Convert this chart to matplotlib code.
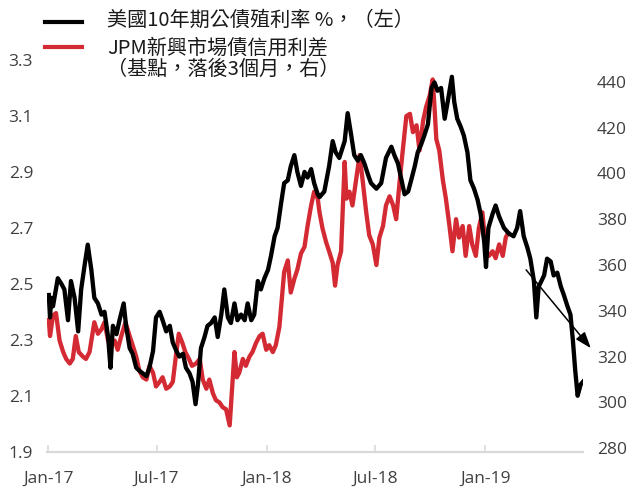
import matplotlib
matplotlib.use("Agg")
import matplotlib.pyplot as plt
import matplotlib.dates as mdates
from matplotlib.lines import Line2D
import pandas as pd

# US 10Y Treasury yield (%), left axis
ust_dates = [
    "2017-01-02","2017-01-04","2017-01-06","2017-01-09","2017-01-17","2017-01-23","2017-01-28",
    "2017-02-03","2017-02-08","2017-02-14","2017-02-20","2017-02-25","2017-03-03","2017-03-08",
    "2017-03-14","2017-03-19","2017-03-25","2017-03-31","2017-04-05","2017-04-11","2017-04-15",
    "2017-04-19","2017-04-25","2017-04-30","2017-05-07","2017-05-11","2017-05-17","2017-05-22",
    "2017-05-28","2017-06-02","2017-06-08","2017-06-14","2017-06-19","2017-06-25","2017-06-30",
    "2017-07-06","2017-07-11","2017-07-17","2017-07-23","2017-07-28","2017-08-03","2017-08-08",
    "2017-08-14","2017-08-19","2017-08-25","2017-08-30","2017-09-04","2017-09-08","2017-09-13",
    "2017-09-19","2017-09-24","2017-09-30","2017-10-06","2017-10-11","2017-10-17","2017-10-22",
    "2017-10-28","2017-11-02","2017-11-08","2017-11-13","2017-11-19","2017-11-25","2017-11-30",
    "2017-12-06","2017-12-11","2017-12-17","2017-12-22","2017-12-28","2018-01-03","2018-01-08",
    "2018-01-14","2018-01-19","2018-01-25","2018-01-30","2018-02-05","2018-02-10","2018-02-16",
    "2018-02-21","2018-02-27","2018-03-05","2018-03-10","2018-03-16","2018-03-21","2018-03-27",
    "2018-03-30","2018-04-07","2018-04-15","2018-04-21","2018-04-26","2018-05-02","2018-05-11",
    "2018-05-16","2018-05-22","2018-05-27","2018-06-02","2018-06-07","2018-06-13","2018-06-19",
    "2018-06-24","2018-07-03","2018-07-11","2018-07-19","2018-07-28","2018-08-02","2018-08-08",
    "2018-08-14","2018-08-19","2018-08-25","2018-08-30","2018-09-05","2018-09-10","2018-09-16",
    "2018-09-21","2018-09-27","2018-10-03","2018-10-08","2018-10-13","2018-10-19","2018-10-25",
    "2018-10-30","2018-11-06","2018-11-10","2018-11-15","2018-11-21","2018-11-26","2018-12-02",
    "2018-12-07","2018-12-13","2018-12-19","2018-12-24","2018-12-30","2019-01-02","2019-01-06",
    "2019-01-13","2019-01-18","2019-01-24","2019-02-01","2019-02-09","2019-02-17","2019-02-23",
    "2019-02-28","2019-03-06","2019-03-12","2019-03-17","2019-03-23","2019-03-27","2019-03-31",
    "2019-04-09","2019-04-14","2019-04-20","2019-04-25","2019-05-01","2019-05-07","2019-05-12",
    "2019-05-18","2019-05-23","2019-05-27","2019-05-31","2019-06-04","2019-06-09","2019-06-13",
]
ust_values = [
    2.46, 2.38, 2.45, 2.42, 2.52, 2.50, 2.48,
    2.37, 2.51, 2.45, 2.33, 2.48, 2.57, 2.64,
    2.55, 2.45, 2.43, 2.39, 2.40, 2.31, 2.20,
    2.35, 2.32, 2.37, 2.43, 2.35, 2.27, 2.25,
    2.20, 2.19, 2.18, 2.17, 2.20, 2.26, 2.38,
    2.40, 2.37, 2.33, 2.35, 2.29, 2.26, 2.24,
    2.25, 2.20, 2.18, 2.15, 2.07, 2.14, 2.27,
    2.31, 2.35, 2.36, 2.38, 2.31, 2.39, 2.48,
    2.38, 2.36, 2.43, 2.37, 2.39, 2.37, 2.43,
    2.37, 2.39, 2.51, 2.48, 2.52, 2.55, 2.60,
    2.67, 2.70, 2.79, 2.86, 2.87, 2.92, 2.96,
    2.90, 2.85, 2.90, 2.88, 2.91, 2.86, 2.82,
    2.81, 2.83, 2.92, 3.01, 2.97, 2.95, 3.01,
    3.11, 3.03, 2.96, 2.94, 2.96, 2.93, 2.89,
    2.86, 2.84, 2.86, 2.95, 2.99, 2.96, 2.93,
    2.87, 2.82, 2.83, 2.87, 2.92, 2.97, 3.00,
    3.03, 3.07, 3.20, 3.22, 3.19, 3.20, 3.09,
    3.15, 3.24, 3.15, 3.09, 3.06, 3.03, 2.97,
    2.87, 2.84, 2.80, 2.75, 2.65, 2.56, 2.70,
    2.75, 2.78, 2.74, 2.70, 2.68, 2.67, 2.70,
    2.76, 2.67, 2.63, 2.59, 2.51, 2.38, 2.49,
    2.53, 2.59, 2.58, 2.53, 2.54, 2.49, 2.46,
    2.42, 2.39, 2.30, 2.19, 2.10, 2.14, 2.15,
]

# JPM EM bond credit spread (bp, lagged 3 months), right axis
em_dates = [
    "2017-01-02","2017-01-04","2017-01-09","2017-01-14","2017-01-20","2017-01-26","2017-01-31",
    "2017-02-06","2017-02-11","2017-02-16","2017-02-21","2017-02-28","2017-03-05","2017-03-11",
    "2017-03-19","2017-03-25","2017-03-31","2017-04-05","2017-04-11","2017-04-16","2017-04-22",
    "2017-04-27","2017-05-03","2017-05-10","2017-05-17","2017-05-22","2017-05-28","2017-06-02",
    "2017-06-08","2017-06-14","2017-06-19","2017-06-25","2017-06-30","2017-07-06","2017-07-11",
    "2017-07-17","2017-07-23","2017-07-28","2017-08-03","2017-08-07","2017-08-13","2017-08-18",
    "2017-08-24","2017-08-29","2017-09-05","2017-09-11","2017-09-16","2017-09-22","2017-09-27",
    "2017-10-03","2017-10-08","2017-10-14","2017-10-19","2017-10-25","2017-10-31","2017-11-02",
    "2017-11-08","2017-11-12","2017-11-16","2017-11-22","2017-11-27","2017-12-03","2017-12-08",
    "2017-12-14","2017-12-20","2017-12-25","2017-12-31","2018-01-05","2018-01-11","2018-01-16",
    "2018-01-22","2018-01-26","2018-01-30","2018-02-05","2018-02-10","2018-02-16","2018-02-21",
    "2018-02-27","2018-03-05","2018-03-10","2018-03-16","2018-03-21","2018-03-27","2018-03-30",
    "2018-04-04","2018-04-10","2018-04-15","2018-04-21","2018-04-25","2018-04-29","2018-05-05",
    "2018-05-11","2018-05-14","2018-05-19","2018-05-24","2018-05-30","2018-06-05","2018-06-10",
    "2018-06-16","2018-06-21","2018-06-27","2018-07-03","2018-07-08","2018-07-14","2018-07-19",
    "2018-07-25","2018-07-31","2018-08-05","2018-08-11","2018-08-16","2018-08-22","2018-08-28",
    "2018-09-02","2018-09-08","2018-09-13","2018-09-19","2018-09-24","2018-09-30","2018-10-05",
    "2018-10-08","2018-10-11","2018-10-16","2018-10-22","2018-10-27","2018-11-02","2018-11-07",
    "2018-11-13","2018-11-18","2018-11-24","2018-11-29","2018-12-05","2018-12-10","2018-12-16",
    "2018-12-21","2018-12-27","2019-01-02","2019-01-07","2019-01-13","2019-01-18","2019-01-24",
    "2019-01-30","2019-02-04","2019-02-08",
]
em_values = [
    336, 329, 338, 339, 327, 322, 319,
    317, 319, 329, 322, 320, 319, 322,
    335, 330, 332, 335, 327, 325, 327,
    323, 329, 335, 329, 325, 320, 314,
    311, 310, 316, 313, 307, 309, 311,
    306, 307, 309, 322, 330, 326, 322,
    319, 316, 317, 319, 310, 306, 310,
    304, 301, 300, 298, 297, 290, 298,
    322, 311, 313, 319, 316, 320, 322,
    326, 329, 330, 323, 325, 322, 325,
    333, 345, 357, 362, 348, 354, 358,
    365, 368, 377, 386, 392, 389, 383,
    376, 370, 366, 361, 351, 360, 366,
    405, 389, 392, 386, 397, 408, 397,
    383, 373, 369, 360, 372, 377, 386,
    390, 386, 380, 397, 410, 425, 426,
    418, 421, 410, 423, 429, 434, 441,
    429, 415, 410, 397, 389, 377, 366,
    380, 372, 377, 364, 377, 369, 364,
    376, 383, 366, 364, 366, 363, 369,
    364, 372, 374,
]

left_ticks = [1.9, 2.1, 2.3, 2.5, 2.7, 2.9, 3.1, 3.3]
right_ticks = [280, 300, 320, 340, 360, 380, 400, 420, 440]
x_ticks = ["2017-01-01", "2017-07-01", "2018-01-01", "2018-07-01", "2019-01-01"]

legend_1 = "美國10年期公債殖利率 %，（左）"
legend_2a = "JPM新興市場債信用利差"
legend_2b = "（基點，落後3個月，右）"

arrow_start = ("2019-03-10", 2.55)
arrow_end = ("2019-06-26", 2.27)

BLACK = "#000000"
RED = "#d42a33"
LABEL = "#404040"
TICK_FONT = ["Open Sans", "DejaVu Sans"]
CJK_FONT = ["Noto Sans CJK TC", "DejaVu Sans"]

fig = plt.figure(figsize=(6.32, 4.91), dpi=100)
ax = fig.add_axes([0.0744, 0.0800, 0.8481, 0.7978])
ax2 = ax.twinx()

ax2.plot(pd.to_datetime(em_dates), em_values, color=RED, lw=3.1, solid_joinstyle="round")
ax.plot(pd.to_datetime(ust_dates), ust_values, color=BLACK, lw=3.1, solid_joinstyle="round")

ax.set_zorder(ax2.get_zorder() + 1)
ax.patch.set_visible(False)

ax.set_xlim(pd.Timestamp("2016-12-30"), pd.Timestamp("2019-06-13"))
ax.set_ylim(1.9, 3.3)
ax2.set_ylim(278.5, 449.5)

ax.set_yticks(left_ticks)
ax.set_yticklabels([f"{v:.1f}" for v in left_ticks])
ax2.set_yticks(right_ticks)
ax2.set_yticklabels([str(v) for v in right_ticks])
ax.set_xticks(pd.to_datetime(x_ticks))
ax.xaxis.set_major_formatter(mdates.DateFormatter("%b-%y"))

for a in (ax, ax2):
    for s in a.spines.values():
        s.set_visible(False)
ax.spines["bottom"].set_visible(True)
ax.spines["bottom"].set_color("#d9d9d9")
ax.spines["bottom"].set_linewidth(1.6)

ax.tick_params(axis="y", length=0, pad=10, labelsize=12.5, labelcolor=LABEL)
ax2.tick_params(axis="y", length=0, pad=10, labelsize=12.5, labelcolor=LABEL)
ax.tick_params(axis="x", direction="in", length=5, width=1.2, color="#d9d9d9",
               pad=14, labelsize=12.5, labelcolor=LABEL)
for lab in ax.get_xticklabels() + ax.get_yticklabels() + ax2.get_yticklabels():
    lab.set_fontfamily(TICK_FONT)

ax.annotate("", xy=(pd.Timestamp(arrow_end[0]), arrow_end[1]),
            xytext=(pd.Timestamp(arrow_start[0]), arrow_start[1]),
            arrowprops=dict(arrowstyle="-|>,head_length=0.7,head_width=0.25",
                            color=BLACK, lw=1.1, mutation_scale=14,
                            shrinkA=0, shrinkB=0),
            annotation_clip=False)

# legend (drawn manually)
fig.add_artist(Line2D([0.0712, 0.1297], [0.9552, 0.9552], color=BLACK, lw=3.0,
                      transform=fig.transFigure))
fig.add_artist(Line2D([0.0712, 0.1297], [0.9043, 0.9043], color=RED, lw=3.0,
                      transform=fig.transFigure))
fig.text(0.1693, 0.9593, legend_1, fontsize=14.5, va="center", ha="left",
         family=CJK_FONT, color="#1a1a1a")
fig.text(0.1693, 0.9022, legend_2a, fontsize=14.5, va="center", ha="left",
         family=CJK_FONT, color="#1a1a1a")
fig.text(0.1693, 0.8595, legend_2b, fontsize=14.5, va="center", ha="left",
         family=CJK_FONT, color="#1a1a1a")

fig.savefig("out.png", dpi=100)
